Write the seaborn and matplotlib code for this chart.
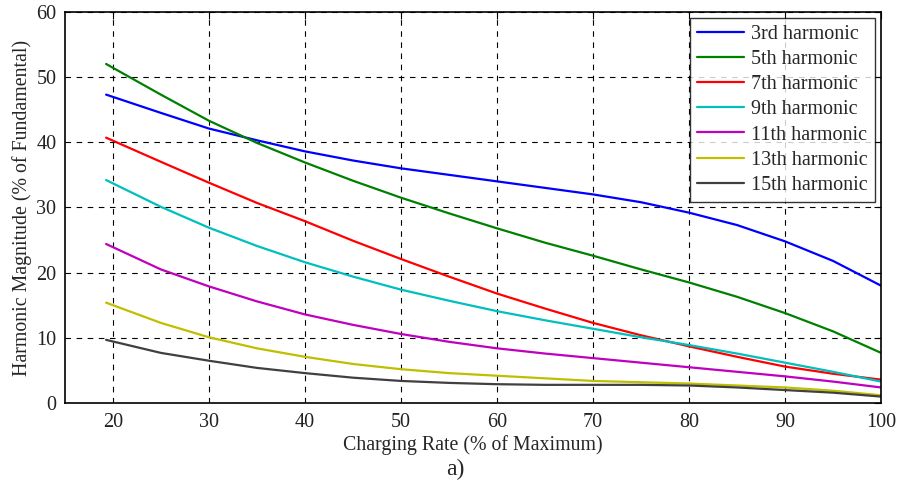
import numpy as np
import pandas as pd
import matplotlib.pyplot as plt
import seaborn as sns

# Charging rate (% of max) sample points
rate = [19.3, 25, 30, 35, 40, 45, 50, 55, 60, 65, 70, 75, 80, 85, 90, 95, 100]

h3 = [47.3, 44.5, 42.1, 40.3, 38.6, 37.2, 36.0, 35.0, 34.0, 33.0, 32.0, 30.8, 29.2, 27.3, 24.8, 21.8, 18.0]
h5 = [52.0, 47.3, 43.3, 39.9, 36.9, 34.1, 31.5, 29.1, 26.8, 24.6, 22.6, 20.5, 18.5, 16.3, 13.8, 11.0, 7.7]
h7 = [40.7, 37.0, 33.8, 30.7, 27.9, 24.9, 22.1, 19.4, 16.8, 14.5, 12.3, 10.4, 8.7, 7.1, 5.6, 4.5, 3.6]
h9 = [34.2, 30.1, 26.9, 24.1, 21.6, 19.4, 17.4, 15.7, 14.1, 12.7, 11.4, 10.1, 8.9, 7.6, 6.2, 4.8, 3.3]
h11 = [24.4, 20.5, 17.9, 15.6, 13.6, 12.0, 10.6, 9.4, 8.4, 7.6, 6.9, 6.2, 5.5, 4.8, 4.1, 3.3, 2.4]
h13 = [15.4, 12.3, 10.1, 8.4, 7.1, 6.0, 5.2, 4.6, 4.2, 3.8, 3.4, 3.2, 3.0, 2.7, 2.4, 1.9, 1.2]
h15 = [9.7, 7.7, 6.5, 5.4, 4.6, 3.9, 3.4, 3.1, 2.9, 2.8, 2.8, 2.8, 2.7, 2.4, 2.0, 1.6, 1.0]

names = ['3rd harmonic', '5th harmonic', '7th harmonic', '9th harmonic',
         '11th harmonic', '13th harmonic', '15th harmonic']
series = [h3, h5, h7, h9, h11, h13, h15]
colors = ['#0000ff', '#008000', '#ff0000', '#00bfbf', '#bf00bf', '#bfbf00', '#404040']

df = pd.concat([pd.DataFrame({'rate': rate, 'mag': s, 'harmonic': n})
                for n, s in zip(names, series)], ignore_index=True)

sns.set_style("white")
plt.rcParams['font.family'] = ['Liberation Serif', 'DejaVu Serif']

fig = plt.figure(figsize=(9, 4.91), dpi=100)
ax = fig.add_axes([0.072, 0.179, 0.907, 0.797])
sns.lineplot(data=df, x='rate', y='mag', hue='harmonic', hue_order=names,
             palette=colors, linewidth=1.6, ax=ax)

ax.set_xlim(15, 100)
ax.set_ylim(0, 60)
ax.set_xticks(range(20, 101, 10))
ax.set_yticks(range(0, 61, 10))
ax.grid(True, color='black', linestyle=(0, (5, 5)), linewidth=0.8)
for sp in ax.spines.values():
    sp.set_color('black')
    sp.set_linewidth(1.2)
ax.tick_params(direction='in', top=True, right=True, length=5,
               labelsize=14.5, color='black', labelcolor='#222222')
ax.tick_params(axis='x', pad=7)
ax.tick_params(axis='y', pad=6)
ax.set_xlabel('Charging Rate (% of Maximum)', fontsize=14.3, labelpad=2)
ax.set_ylabel('Harmonic Magnitude (% of Fundamental)', fontsize=14.3, labelpad=3)

leg = ax.legend(loc='upper right', fontsize=14.5, frameon=True, fancybox=False,
                edgecolor='black', borderaxespad=0.3, handlelength=2.35,
                handletextpad=0.35, labelspacing=0.3, borderpad=0.35)
leg.get_frame().set_linewidth(1.0)

fig.text(0.506, 0.043, 'a)', fontsize=17, ha='center', va='center')

plt.savefig('out.png', dpi=100)
